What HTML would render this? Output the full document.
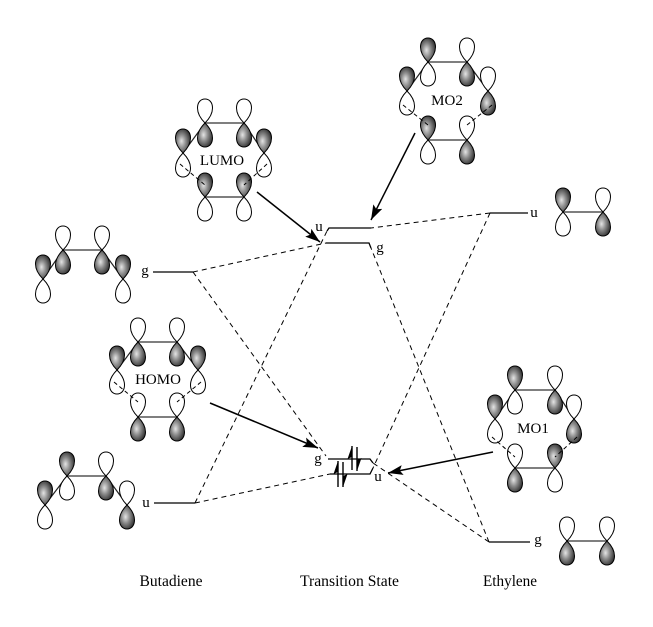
<!DOCTYPE html>
<html><head><meta charset="utf-8"><style>
html,body{margin:0;padding:0;background:#fff;}
svg{display:block;}
text{font-family:"Liberation Serif","DejaVu Serif",serif;fill:#000;}
</style></head><body>
<svg width="653" height="627" viewBox="0 0 653 627" xmlns="http://www.w3.org/2000/svg">
<defs>
<radialGradient id="gr" cx="0.42" cy="0.55" r="0.62" fx="0.4" fy="0.5">
<stop offset="0" stop-color="#e4e4e4"/>
<stop offset="0.45" stop-color="#8c8c8c"/>
<stop offset="1" stop-color="#2e2e2e"/>
</radialGradient>
<path id="W" d="M0,0 C-4,-4 -7.5,-9 -7.5,-15 C-7.5,-21 -4,-24 0,-24 C4,-24 7.5,-21 7.5,-15 C7.5,-9 4,-4 0,0Z" fill="#fff" stroke="#000" stroke-width="1"/>
<path id="S" d="M0,0 C-4,-4 -7.5,-9 -7.5,-15 C-7.5,-21 -4,-24 0,-24 C4,-24 7.5,-21 7.5,-15 C7.5,-9 4,-4 0,0Z" fill="url(#gr)" stroke="#000" stroke-width="1"/>
<marker id="ah" markerUnits="userSpaceOnUse" markerWidth="16" markerHeight="10" refX="15" refY="5" orient="auto">
<path d="M0,0 L15,5 L0,10 L3,5 Z" fill="#000"/>
</marker>
</defs>

<!-- correlation dashed lines -->
<g stroke="#000" stroke-width="1" stroke-dasharray="5,4" fill="none">
<line x1="193" y1="272" x2="326" y2="243"/>
<line x1="193" y1="272" x2="326" y2="456"/>
<line x1="195" y1="503" x2="327" y2="231"/>
<line x1="195" y1="503" x2="330" y2="474"/>
<line x1="490" y1="213" x2="371" y2="228"/>
<line x1="490" y1="213" x2="373" y2="468"/>
<line x1="489" y1="542" x2="371" y2="248"/>
<line x1="489" y1="542" x2="373" y2="463"/>
</g>

<!-- energy levels -->
<g stroke="#000" stroke-width="1.3" fill="none">
<line x1="153" y1="272" x2="193" y2="272"/>
<line x1="154" y1="503" x2="195" y2="503"/>
<line x1="490" y1="213" x2="528" y2="213"/>
<line x1="489" y1="542" x2="530" y2="542"/>
<polyline points="327,231 329,228 371,228"/>
<polyline points="326,243 369,243 371,248"/>
<polyline points="328,459 370,459 373,463"/>
<polyline points="330,474 370,474 373,468"/>
</g>

<!-- electrons -->
<g stroke="#000" stroke-width="1.4">
<line x1="352" y1="470" x2="352" y2="446"/>
<line x1="357" y1="447" x2="357" y2="471"/>
<line x1="338" y1="487" x2="338" y2="461"/>
<line x1="343" y1="462" x2="343" y2="487"/>
</g>
<g fill="#000">
<polygon points="352,446 347.5,459 352,457"/>
<polygon points="357,471 361.5,458 357,460"/>
<polygon points="338,461 333.5,474 338,472"/>
<polygon points="343,487 347.5,474 343,476"/>
</g>

<!-- level labels -->
<g font-size="15">
<text x="145" y="275" text-anchor="middle">g</text>
<text x="146" y="507" text-anchor="middle">u</text>
<text x="319" y="231" text-anchor="middle">u</text>
<text x="380" y="252" text-anchor="middle">g</text>
<text x="318" y="463" text-anchor="middle">g</text>
<text x="378" y="481" text-anchor="middle">u</text>
<text x="534" y="217" text-anchor="middle">u</text>
<text x="538" y="544" text-anchor="middle">g</text>
</g>

<!-- bonds -->
<g stroke="#555" stroke-width="1.6">
<line x1="63" y1="250" x2="102" y2="250"/>
<line x1="67" y1="476" x2="106" y2="476"/>
<line x1="563" y1="212" x2="603" y2="212"/>
<line x1="567" y1="541" x2="607" y2="541"/>
<line x1="205" y1="123" x2="244" y2="123"/>
<line x1="205" y1="197" x2="244" y2="197"/>
<line x1="428" y1="62" x2="467" y2="62"/>
<line x1="428" y1="140" x2="467" y2="140"/>
<line x1="138" y1="342" x2="177" y2="342"/>
<line x1="138" y1="417" x2="177" y2="417"/>
<line x1="515" y1="390" x2="555" y2="390"/>
<line x1="515" y1="468" x2="555" y2="468"/>
</g>
<g stroke="#222" stroke-width="1.2">
<line x1="43" y1="279" x2="63" y2="250"/>
<line x1="102" y1="250" x2="123" y2="279"/>
<line x1="45" y1="505" x2="67" y2="476"/>
<line x1="106" y1="476" x2="127" y2="505"/>
<line x1="205" y1="123" x2="183" y2="153"/>
<line x1="244" y1="123" x2="264" y2="153"/>
<line x1="428" y1="62" x2="407" y2="91"/>
<line x1="467" y1="62" x2="488" y2="91"/>
<line x1="138" y1="342" x2="117" y2="370"/>
<line x1="177" y1="342" x2="198" y2="370"/>
<line x1="515" y1="390" x2="495" y2="419"/>
<line x1="555" y1="390" x2="574" y2="419"/>
</g>

<!-- Butadiene g -->
<use href="#S" transform="translate(43,279)"/><use href="#W" transform="translate(43,279) scale(1,-1)"/>
<use href="#W" transform="translate(63,250)"/><use href="#S" transform="translate(63,250) scale(1,-1)"/>
<use href="#W" transform="translate(102,250)"/><use href="#S" transform="translate(102,250) scale(1,-1)"/>
<use href="#S" transform="translate(123,279)"/><use href="#W" transform="translate(123,279) scale(1,-1)"/>

<!-- Butadiene u -->
<use href="#S" transform="translate(45,505)"/><use href="#W" transform="translate(45,505) scale(1,-1)"/>
<use href="#S" transform="translate(67,476)"/><use href="#W" transform="translate(67,476) scale(1,-1)"/>
<use href="#W" transform="translate(106,476)"/><use href="#S" transform="translate(106,476) scale(1,-1)"/>
<use href="#W" transform="translate(127,505)"/><use href="#S" transform="translate(127,505) scale(1,-1)"/>

<!-- Ethylene u -->
<use href="#S" transform="translate(563,212)"/><use href="#W" transform="translate(563,212) scale(1,-1)"/>
<use href="#W" transform="translate(603,212)"/><use href="#S" transform="translate(603,212) scale(1,-1)"/>

<!-- Ethylene g -->
<use href="#W" transform="translate(567,541)"/><use href="#S" transform="translate(567,541) scale(1,-1)"/>
<use href="#W" transform="translate(607,541)"/><use href="#S" transform="translate(607,541) scale(1,-1)"/>

<!-- LUMO -->
<use href="#S" transform="translate(183,153)"/><use href="#W" transform="translate(183,153) scale(1,-1)"/>
<use href="#S" transform="translate(264,153)"/><use href="#W" transform="translate(264,153) scale(1,-1)"/>
<use href="#W" transform="translate(205,123)"/><use href="#S" transform="translate(205,123) scale(1,-1)"/>
<use href="#W" transform="translate(244,123)"/><use href="#S" transform="translate(244,123) scale(1,-1)"/>
<use href="#S" transform="translate(205,197)"/><use href="#W" transform="translate(205,197) scale(1,-1)"/>
<use href="#S" transform="translate(244,197)"/><use href="#W" transform="translate(244,197) scale(1,-1)"/>

<!-- MO2 -->
<use href="#S" transform="translate(407,91)"/><use href="#W" transform="translate(407,91) scale(1,-1)"/>
<use href="#W" transform="translate(488,91)"/><use href="#S" transform="translate(488,91) scale(1,-1)"/>
<use href="#S" transform="translate(428,62)"/><use href="#W" transform="translate(428,62) scale(1,-1)"/>
<use href="#W" transform="translate(467,62)"/><use href="#S" transform="translate(467,62) scale(1,-1)"/>
<use href="#S" transform="translate(428,140)"/><use href="#W" transform="translate(428,140) scale(1,-1)"/>
<use href="#W" transform="translate(467,140)"/><use href="#S" transform="translate(467,140) scale(1,-1)"/>

<!-- HOMO -->
<use href="#S" transform="translate(117,370)"/><use href="#W" transform="translate(117,370) scale(1,-1)"/>
<use href="#S" transform="translate(198,370)"/><use href="#W" transform="translate(198,370) scale(1,-1)"/>
<use href="#W" transform="translate(138,342)"/><use href="#S" transform="translate(138,342) scale(1,-1)"/>
<use href="#W" transform="translate(177,342)"/><use href="#S" transform="translate(177,342) scale(1,-1)"/>
<use href="#W" transform="translate(138,417)"/><use href="#S" transform="translate(138,417) scale(1,-1)"/>
<use href="#W" transform="translate(177,417)"/><use href="#S" transform="translate(177,417) scale(1,-1)"/>

<!-- MO1 -->
<use href="#S" transform="translate(495,419)"/><use href="#W" transform="translate(495,419) scale(1,-1)"/>
<use href="#W" transform="translate(574,419)"/><use href="#S" transform="translate(574,419) scale(1,-1)"/>
<use href="#S" transform="translate(515,390)"/><use href="#W" transform="translate(515,390) scale(1,-1)"/>
<use href="#W" transform="translate(555,390)"/><use href="#S" transform="translate(555,390) scale(1,-1)"/>
<use href="#W" transform="translate(515,468)"/><use href="#S" transform="translate(515,468) scale(1,-1)"/>
<use href="#S" transform="translate(555,468)"/><use href="#W" transform="translate(555,468) scale(1,-1)"/>

<!-- forming sigma bonds (dashed) -->
<g stroke="#000" stroke-width="1" stroke-dasharray="4,3">
<line x1="180" y1="164" x2="205" y2="185"/>
<line x1="267" y1="164" x2="244" y2="185"/>
<line x1="403" y1="105" x2="428" y2="125"/>
<line x1="492" y1="105" x2="467" y2="125"/>
<line x1="114" y1="382" x2="138" y2="402"/>
<line x1="201" y1="382" x2="177" y2="402"/>
<line x1="492" y1="437" x2="515" y2="457"/>
<line x1="577" y1="437" x2="555" y2="457"/>
</g>

<!-- MO labels -->
<g font-size="15" text-anchor="middle">
<text x="222" y="165">LUMO</text>
<text x="447" y="105">MO2</text>
<text x="158" y="384">HOMO</text>
<text x="533" y="433">MO1</text>
</g>

<!-- arrows -->
<g stroke="#000" stroke-width="1.5" marker-end="url(#ah)">
<line x1="257" y1="192" x2="320" y2="242"/>
<line x1="415" y1="133" x2="371" y2="220"/>
<line x1="210" y1="403" x2="318" y2="448"/>
<line x1="493" y1="452" x2="388" y2="473"/>
</g>

<!-- bottom labels -->
<g font-size="15.5">
<text x="139.5" y="586" textLength="63" lengthAdjust="spacingAndGlyphs">Butadiene</text>
<text x="300" y="586" textLength="99" lengthAdjust="spacingAndGlyphs">Transition State</text>
<text x="483" y="586" textLength="54" lengthAdjust="spacingAndGlyphs">Ethylene</text>
</g>
</svg>
</body></html>
